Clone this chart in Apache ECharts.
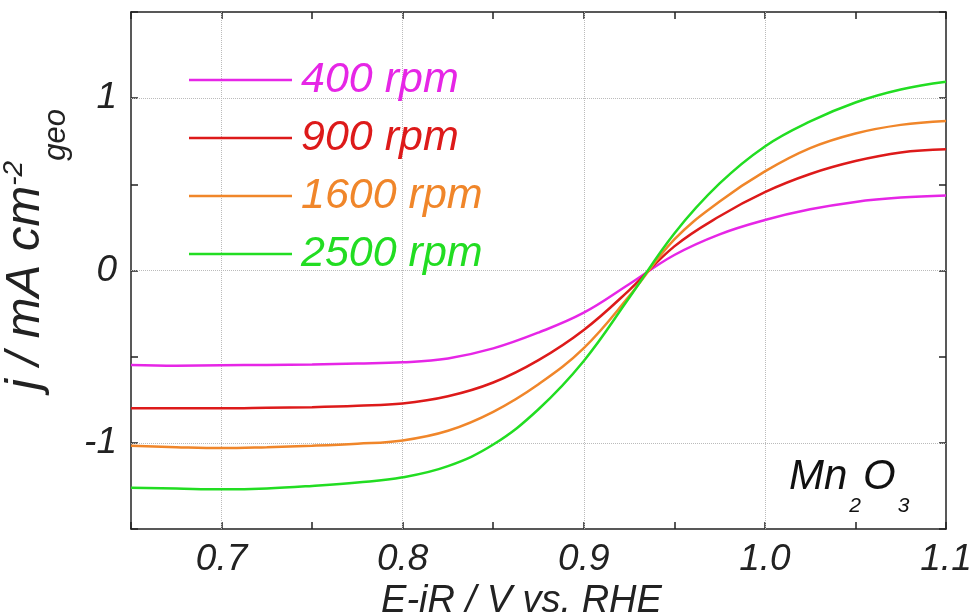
<!DOCTYPE html>
<html>
<head>
<meta charset="utf-8">
<script src="https://cdn.jsdelivr.net/npm/echarts@6/dist/echarts.min.js"></script>
<style>
  html, body { margin: 0; padding: 0; background: #fff; }
  #rde-chart { width: 975px; height: 613px; }
</style>
</head>
<body>
<div id="rde-chart"></div>
<script>
// potential (V vs. RHE)
const potential = [0.65, 0.675, 0.70, 0.725, 0.75, 0.775, 0.80, 0.825, 0.85, 0.875, 0.90, 0.925, 0.95, 0.975, 1.0, 1.025, 1.05, 1.075, 1.1]
// current density j / mA cm-2, one array per rotation rate
const j400 = [-0.548, -0.552, -0.550, -0.548, -0.545, -0.540, -0.533, -0.510, -0.452, -0.360, -0.245, -0.080, 0.090, 0.210, 0.293, 0.355, 0.398, 0.423, 0.435]
const j900 = [-0.800, -0.800, -0.800, -0.797, -0.793, -0.785, -0.772, -0.730, -0.650, -0.520, -0.345, -0.115, 0.140, 0.315, 0.455, 0.560, 0.635, 0.685, 0.703]
const j1600 = [-1.017, -1.025, -1.030, -1.025, -1.017, -1.005, -0.986, -0.930, -0.820, -0.660, -0.450, -0.150, 0.180, 0.400, 0.575, 0.710, 0.795, 0.845, 0.868]
const j2500 = [-1.260, -1.265, -1.270, -1.265, -1.250, -1.230, -1.200, -1.135, -1.010, -0.805, -0.525, -0.160, 0.215, 0.505, 0.720, 0.865, 0.975, 1.050, 1.095]
const seriesNames = ['400 rpm', '900 rpm', '1600 rpm', '2500 rpm']
const seriesColors = ['#e626e6', '#dd1a1a', '#f0862a', '#22dd22']
const xGridLines = [0.7, 0.8, 0.9, 1.0]
const yGridLines = [1, 0, -1]

const FONT = '"Liberation Sans", Arial, sans-serif'
const allData = [j400, j900, j1600, j2500]

const myChart = echarts.init(document.getElementById('rde-chart'))

const frameAxis = {
  axisLine: { show: true, onZero: false, lineStyle: { color: '#222', width: 1.5 } },
  axisTick: { show: true, inside: true, length: 7, lineStyle: { color: '#222', width: 1.5 } },
  splitLine: { show: false }
}

const option = {
  animation: false,
  backgroundColor: '#fff',
  grid: { left: 131, right: 29, top: 12, bottom: 84, containLabel: false, outerBoundsMode: 'none' },
  legend: {
    orient: 'vertical',
    left: 184,
    top: 46,
    icon: 'rect',
    itemWidth: 103,
    itemHeight: 2.5,
    itemGap: 0,
    textStyle: { fontFamily: FONT, fontSize: 43, fontStyle: 'italic', lineHeight: 58, padding: [0, 0, 0, 4] },
    data: seriesNames.map((name, i) => ({ name, textStyle: { color: seriesColors[i] } }))
  },
  xAxis: [
    Object.assign({}, frameAxis, {
      type: 'value',
      min: 0.65,
      max: 1.1,
      interval: 0.05,
      name: 'E-iR / V vs. RHE',
      nameLocation: 'middle',
      nameGap: 46,
      nameTextStyle: { fontFamily: FONT, fontSize: 38, fontStyle: 'italic', color: '#222', padding: [0, 34, 0, 0] },
      axisLabel: {
        margin: 12,
        fontFamily: FONT,
        fontSize: 37,
        fontStyle: 'italic',
        color: '#222',
        formatter: v => Math.round(v * 100) % 10 === 0 ? v.toFixed(1) : ''
      }
    }),
    Object.assign({}, frameAxis, {
      type: 'value', position: 'top', min: 0.65, max: 1.1, interval: 0.05,
      axisLabel: { show: false }
    })
  ],
  yAxis: [
    Object.assign({}, frameAxis, {
      type: 'value',
      min: -1.5,
      max: 1.5,
      interval: 0.5,
      name: '{m|j / mA cm}{sup|-2}{sub|geo}',
      nameLocation: 'middle',
      nameRotate: 90,
      nameGap: 31,
      nameTextStyle: {
        fontFamily: FONT,
        color: '#222',
        padding: [0, 0, 0, 42],
        rich: {
          // equal token heights, position set by padding
          m: { fontFamily: FONT, fontSize: 49, fontStyle: 'italic', lineHeight: 49, padding: [22, 0, 23, 0], color: '#222' },
          sup: { fontFamily: FONT, fontSize: 28, fontStyle: 'italic', lineHeight: 28, padding: [21, 0, 45, 0], color: '#222' },
          sub: { fontFamily: FONT, fontSize: 31, fontStyle: 'italic', lineHeight: 31, padding: [62, 0, 1, 0], color: '#222' }
        }
      },
      axisLabel: {
        margin: 14,
        fontFamily: FONT,
        fontSize: 37,
        fontStyle: 'italic',
        color: '#222',
        formatter: v => Number.isInteger(v) ? String(v) : ''
      }
    }),
    Object.assign({}, frameAxis, {
      type: 'value', position: 'right', min: -1.5, max: 1.5, interval: 0.5,
      axisLabel: { show: false }
    })
  ],
  graphic: [
    {
      type: 'text',
      left: 789,
      top: 456,
      style: {
        text: '{a|Mn}{b|2}{a|O}{b|3}',
        rich: {
          a: { fontFamily: FONT, fontSize: 42, fontStyle: 'italic', lineHeight: 42, padding: [0, 0, 20, 0], fill: '#111' },
          b: { fontFamily: FONT, fontSize: 21, fontStyle: 'italic', lineHeight: 21, padding: [40, 2, 1, 2], fill: '#111' }
        }
      }
    }
  ],
  series: [
    {
      // dotted grid at major ticks
      name: 'grid',
      type: 'line',
      data: [],
      z: 1,
      silent: true,
      markLine: {
        silent: true,
        z: 1,
        symbol: 'none',
        animation: false,
        label: { show: false },
        lineStyle: { type: 'dotted', color: '#bbb', width: 1 },
        data: xGridLines.map(v => ({ xAxis: v })).concat(yGridLines.map(v => ({ yAxis: v })))
      }
    }
  ].concat(allData.map((arr, i) => ({
    name: seriesNames[i],
    type: 'line',
    z: 5,
    smooth: 0.4,
    showSymbol: false,
    symbol: 'none',
    color: seriesColors[i],
    lineStyle: { width: 2.5, color: seriesColors[i] },
    data: potential.map((x, k) => [x, arr[k]])
  })))
}

myChart.setOption(option)
</script>
</body>
</html>
